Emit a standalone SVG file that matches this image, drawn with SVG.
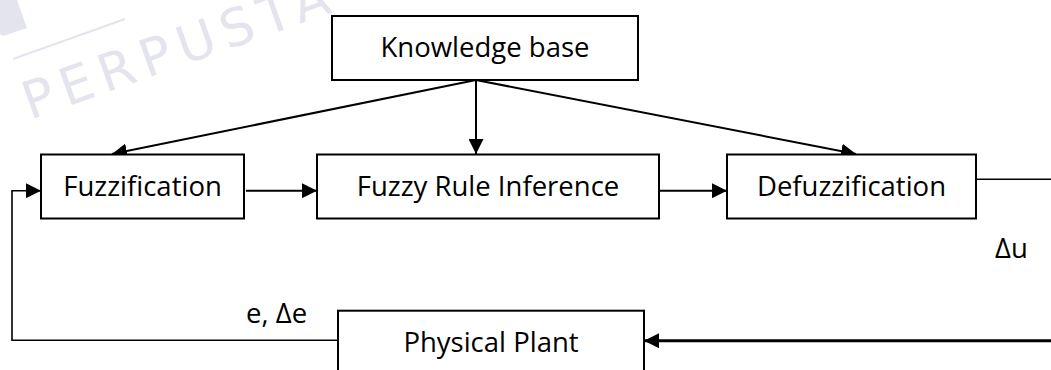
<svg xmlns="http://www.w3.org/2000/svg" width="1051" height="370" viewBox="0 0 1051 370">
  <defs>
    <marker id="arrow" markerUnits="userSpaceOnUse" markerWidth="15" markerHeight="15" refX="15" refY="7.5" orient="auto">
      <path d="M0,0 L15,7.5 L0,15 z" fill="#000"/>
    </marker>
  </defs>
  <style>
    .box { fill: #fff; stroke: #000; stroke-width: 2; }
    .label { font-family: "Open Sans", "Liberation Sans", sans-serif; font-size: 27.5px; fill: #000; text-anchor: middle; }
    .free { font-family: "Open Sans", "Liberation Sans", sans-serif; font-size: 27.5px; fill: #000; }
    .wire { fill: none; stroke: #000; stroke-width: 2; }
    .thin { fill: none; stroke: #000; stroke-width: 1.6; }
    .thick { fill: none; stroke: #000; stroke-width: 3; }
    .mark { fill: #e4e4ef; }
  </style>

  <!-- faint library stamp in the corner -->
  <g id="stamp">
    <polygon class="mark" points="0,0 17,0 27,28 3,36 0,34"/>
    <line x1="13" y1="59" x2="125" y2="19" stroke="#e4e4ef" stroke-width="2"/>
    <text class="mark" x="0" y="0" transform="translate(30,120) rotate(-19.6)" font-family="'DejaVu Sans', sans-serif" font-weight="400" font-size="52" textLength="322" lengthAdjust="spacing">PERPUSTA</text>
  </g>

  <!-- connectors -->
  <g id="connectors">
    <line class="wire" x1="476" y1="80" x2="112" y2="154" marker-end="url(#arrow)"/>
    <line class="wire" x1="476" y1="80" x2="476" y2="154" marker-end="url(#arrow)"/>
    <line class="wire" x1="476" y1="80" x2="856" y2="154" marker-end="url(#arrow)"/>
    <line class="wire" x1="246" y1="190.7" x2="317" y2="190.7" marker-end="url(#arrow)"/>
    <line class="wire" x1="659" y1="190.7" x2="727" y2="190.7" marker-end="url(#arrow)"/>
    <line class="thin" x1="976" y1="179.3" x2="1051" y2="179.3"/>
    <line class="thick" x1="1051" y1="340.7" x2="644" y2="340.7" marker-end="url(#arrow)"/>
    <polyline class="thin" points="338,340.3 12,340.3 12,190.7 41,190.7" marker-end="url(#arrow)"/>
    <text class="free" x="995" y="258">Δu</text>
    <text class="free" x="246" y="323">e, Δe</text>
  </g>

  <g id="knowledge-base">
    <rect class="box" x="332" y="16" width="306" height="64"/>
    <text class="label" x="485" y="57.3">Knowledge base</text>
  </g>

  <g id="fuzzification">
    <rect class="box" x="41" y="154.5" width="203" height="64"/>
    <text class="label" x="142.5" y="195.7">Fuzzification</text>
  </g>

  <g id="fuzzy-rule-inference">
    <rect class="box" x="317" y="154.5" width="342" height="64"/>
    <text class="label" x="488" y="195.7">Fuzzy Rule Inference</text>
  </g>

  <g id="defuzzification">
    <rect class="box" x="727" y="154.5" width="249" height="64"/>
    <text class="label" x="851.5" y="195.7">Defuzzification</text>
  </g>

  <g id="physical-plant">
    <rect class="box" x="338" y="310.7" width="306" height="64"/>
    <text class="label" x="491" y="351.7">Physical Plant</text>
  </g>
</svg>
